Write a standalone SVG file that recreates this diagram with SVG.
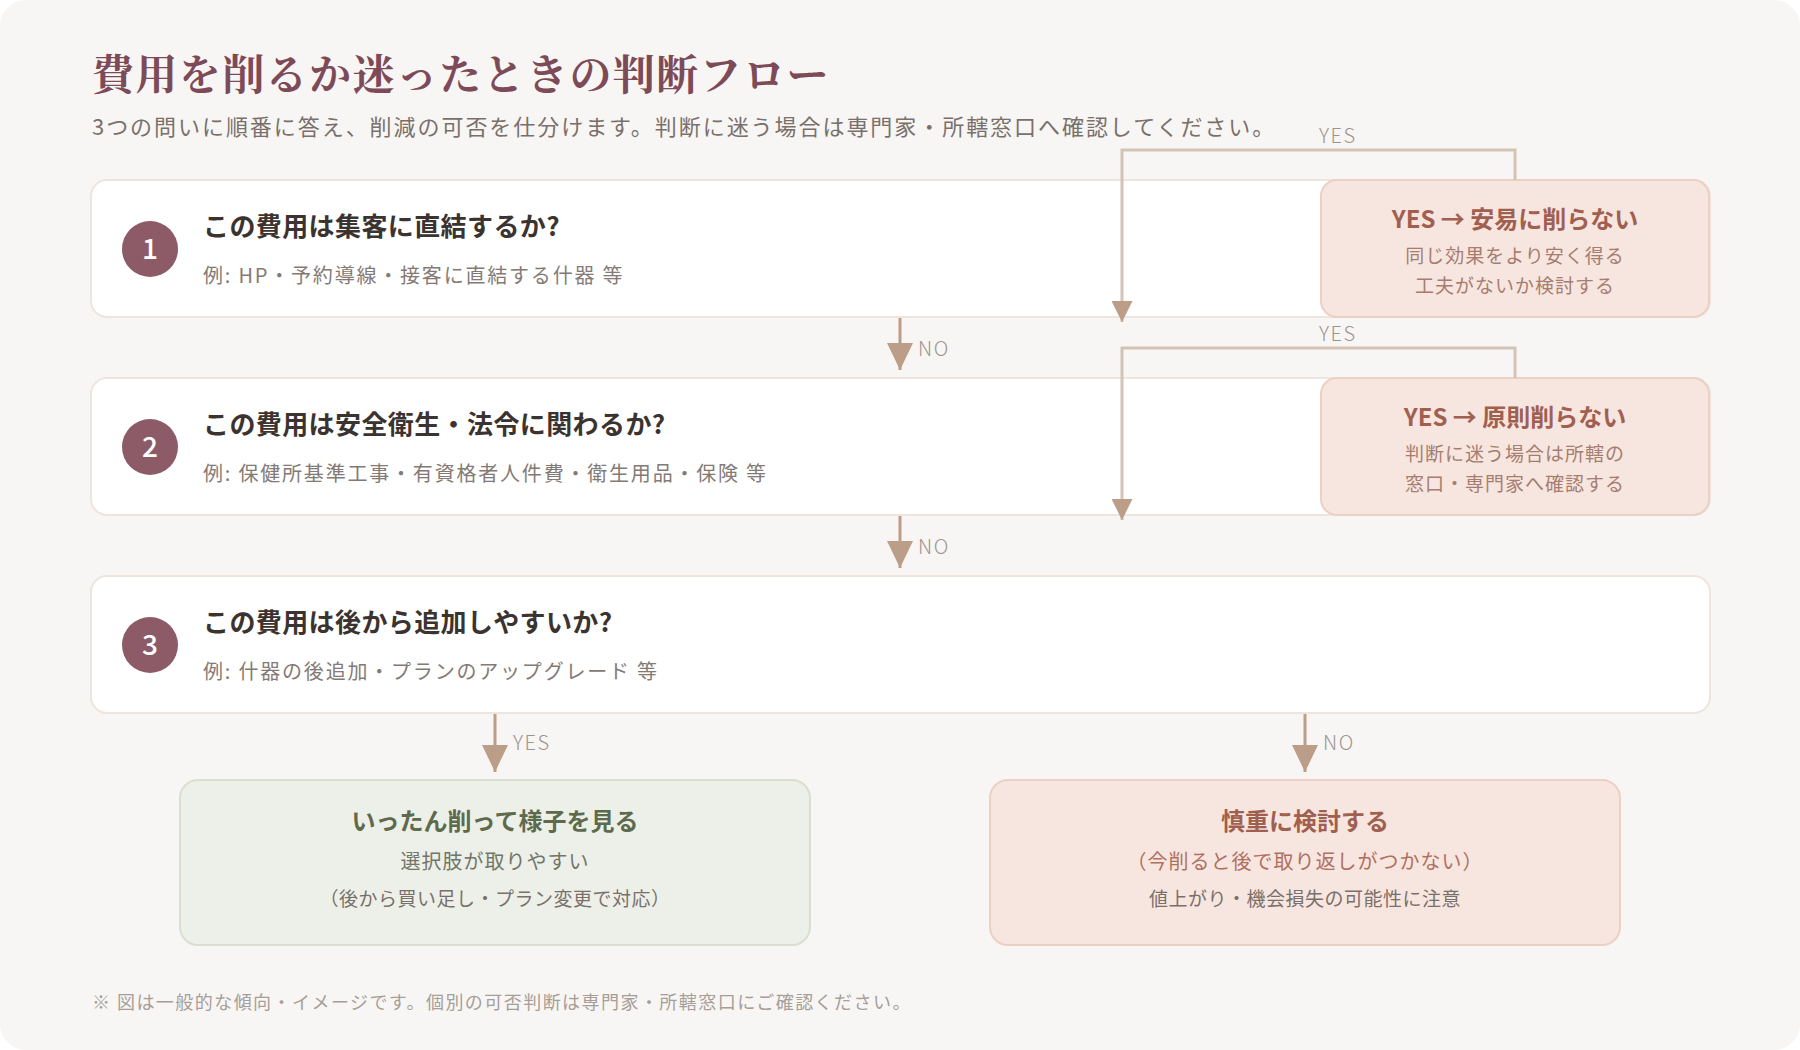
<svg xmlns="http://www.w3.org/2000/svg" width="1800" height="1050" viewBox="0 0 1800 1050">
<defs>
<style>
.sans{font-family:"Noto Sans CJK JP","Noto Sans",sans-serif;}
.title{font-family:"Noto Serif CJK JP","Liberation Serif","Noto Sans CJK JP",serif;font-size:42px;fill:#7d4b58;font-weight:700;letter-spacing:1.4px;}
.subtitle{font-size:22px;fill:#7a706b;letter-spacing:1.95px;}
.card{fill:#ffffff;stroke:#ede5de;stroke-width:2;}
.num{fill:#8c5b67;}
.numt{font-size:28px;fill:#ffffff;font-weight:500;text-anchor:middle;}
.q{font-size:26px;fill:#3b3330;font-weight:700;letter-spacing:0.4px;}
.ex{font-size:20px;fill:#847a75;letter-spacing:1.8px;}
.warn{fill:#f7e6df;stroke:#ecd0c3;stroke-width:2;}
.good{fill:#edf0e8;stroke:#d9dfcf;stroke-width:2;}
.wt{font-size:24px;fill:#a15f50;font-weight:700;text-anchor:middle;}
.ws{font-size:19px;fill:#a67d70;text-anchor:middle;letter-spacing:1px;}
.gt{font-size:24px;fill:#5d6b4c;font-weight:700;text-anchor:middle;}
.gs{font-size:20px;fill:#72766a;text-anchor:middle;letter-spacing:1px;}
.grey{font-size:19px;fill:#7a706b;text-anchor:middle;letter-spacing:0.5px;}
.lbl{font-size:20px;fill:#9d948e;letter-spacing:1.5px;font-weight:300;}
.main{stroke:#bc9d88;stroke-width:3;fill:none;}
.back{stroke:#d3c3b3;stroke-width:3;fill:none;}
.foot{font-size:18px;fill:#a69e98;letter-spacing:1.45px;}
</style>
<marker id="ah" viewBox="0 0 27 26" refX="27" refY="13" markerWidth="27" markerHeight="26" markerUnits="userSpaceOnUse" orient="auto">
<path d="M0 0 L27 13 L0 26 Z" fill="#bc9d88"/>
</marker>
<marker id="ahs" viewBox="0 0 21 21" refX="21" refY="10.5" markerWidth="21" markerHeight="21" markerUnits="userSpaceOnUse" orient="auto">
<path d="M0 0 L21 10.5 L0 21 Z" fill="#bc9d88"/>
</marker>
</defs>
<rect x="0" y="0" width="1800" height="1050" fill="#ffffff"/>
<rect x="0" y="0" width="1800" height="1050" rx="26" fill="#f8f6f4"/>

<g id="header">
<text class="title" x="92" y="90">費用を削るか迷ったときの判断フロー</text>
<text class="sans subtitle" x="92" y="135">3つの問いに順番に答え、削減の可否を仕分けます。判断に迷う場合は専門家・所轄窓口へ確認してください。</text>
</g>

<g id="q1">
<rect class="card" x="91" y="180" width="1619" height="137" rx="16"/>
<circle class="num" cx="150" cy="249" r="28"/>
<text class="sans numt" x="150" y="259">1</text>
<text class="sans q" x="203" y="236">この費用は集客に直結するか?</text>
<text class="sans ex" x="203" y="283">例: HP・予約導線・接客に直結する什器 等</text>
</g>
<g id="r1">
<rect class="warn" x="1321" y="180" width="388" height="137" rx="16"/>
<text class="sans wt" x="1515" y="228">YES → 安易に削らない</text>
<text class="sans ws" x="1515" y="263">同じ効果をより安く得る</text>
<text class="sans ws" x="1515" y="293">工夫がないか検討する</text>
</g>

<g id="q2">
<rect class="card" x="91" y="378" width="1619" height="137" rx="16"/>
<circle class="num" cx="150" cy="447" r="28"/>
<text class="sans numt" x="150" y="457">2</text>
<text class="sans q" x="203" y="434">この費用は安全衛生・法令に関わるか?</text>
<text class="sans ex" x="203" y="481">例: 保健所基準工事・有資格者人件費・衛生用品・保険 等</text>
</g>
<g id="r2">
<rect class="warn" x="1321" y="378" width="388" height="137" rx="16"/>
<text class="sans wt" x="1515" y="426">YES → 原則削らない</text>
<text class="sans ws" x="1515" y="461">判断に迷う場合は所轄の</text>
<text class="sans ws" x="1515" y="491">窓口・専門家へ確認する</text>
</g>

<g id="q3">
<rect class="card" x="91" y="576" width="1619" height="137" rx="16"/>
<circle class="num" cx="150" cy="645" r="28"/>
<text class="sans numt" x="150" y="655">3</text>
<text class="sans q" x="203" y="632">この費用は後から追加しやすいか?</text>
<text class="sans ex" x="203" y="679">例: 什器の後追加・プランのアップグレード 等</text>
</g>

<g id="yes-out">
<rect class="good" x="180" y="780" width="630" height="165" rx="18"/>
<text class="sans gt" x="495" y="830">いったん削って様子を見る</text>
<text class="sans gs" x="495" y="869">選択肢が取りやすい</text>
<text class="sans grey" x="495" y="906">（後から買い足し・プラン変更で対応）</text>
</g>

<g id="no-out">
<rect class="warn" x="990" y="780" width="630" height="165" rx="18"/>
<text class="sans wt" x="1305" y="830">慎重に検討する</text>
<text class="sans gs" x="1305" y="869" style="fill:#b0705f">（今削ると後で取り返しがつかない）</text>
<text class="sans grey" x="1305" y="906">値上がり・機会損失の可能性に注意</text>
</g>

<g id="connectors">
<path class="back" d="M1515 180 V150 H1122 V322" marker-end="url(#ahs)"/>
<text class="sans lbl" x="1319" y="143">YES</text>
<path class="back" d="M1515 378 V348 H1122 V520" marker-end="url(#ahs)"/>
<text class="sans lbl" x="1319" y="341">YES</text>
<path class="main" d="M900 318 V370" marker-end="url(#ah)"/>
<text class="sans lbl" x="918" y="356">NO</text>
<path class="main" d="M900 516 V568" marker-end="url(#ah)"/>
<text class="sans lbl" x="918" y="554">NO</text>
<path class="main" d="M495 714 V772" marker-end="url(#ah)"/>
<text class="sans lbl" x="513" y="750">YES</text>
<path class="main" d="M1305 714 V772" marker-end="url(#ah)"/>
<text class="sans lbl" x="1323" y="750">NO</text>
</g>

<g id="footer">
<text class="sans foot" x="92" y="1009">※ 図は一般的な傾向・イメージです。個別の可否判断は専門家・所轄窓口にご確認ください。</text>
</g>
</svg>
